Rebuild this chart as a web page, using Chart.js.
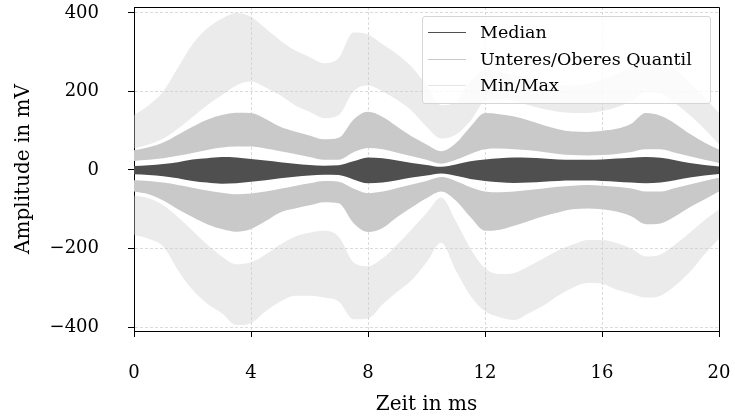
<!DOCTYPE html>
<html>
<head>
<meta charset="utf-8">
<script src="https://cdn.jsdelivr.net/npm/chart.js@4.4.1/dist/chart.umd.min.js"></script>
<style>
  html, body { margin: 0; padding: 0; background: #fff; }
  #wrap { position: relative; width: 735px; height: 419px; }
  #legend {
    position: absolute; left: 422px; top: 16px; width: 289px; height: 88px;
    box-sizing: border-box; background: rgba(255,255,255,0.8);
    border: 1px solid #d6d6d6; border-radius: 3px;
    font-family: 'DejaVu Serif', serif; font-size: 17.5px; color: #000;
    padding-top: 2px;
  }
  .row { height: 26.5px; line-height: 26.5px; white-space: nowrap; position: relative; }
  .swatch { position: absolute; left: 5px; top: 13px; width: 38px; height: 0; border-top: 1.5px solid; }
  .lbl { position: absolute; left: 57px; top: 0; }
</style>
</head>
<body>
<div id="wrap">
  <canvas id="chart" width="735" height="419"></canvas>
  <div id="legend"></div>
</div>
<script>
// time axis in ms
const time = [0,0.5,1,1.5,2,2.5,3,3.5,4,4.5,5,5.5,6,6.5,7,7.5,8,8.5,9,9.5,10,
  10.5,11,11.5,12,12.5,13,13.5,14,14.5,15,15.5,16,16.5,17,17.5,18,18.5,19,19.5,20];

// envelopes (mV) of each trace
const medianHi = [10,12,15,20,27,30,33,32,28,24,20,16,13,11,12,22,32,30,24,18,13,
  8,14,22,27,30,32,31,29,27,26,26,27,29,31,33,31,25,18,13,9];
const medianLo = [-11,-13,-16,-21,-28,-32,-35,-34,-30,-26,-21,-17,-14,-12,-13,-24,-34,-32,-26,-19,-14,
  -9,-15,-23,-28,-31,-33,-32,-30,-28,-27,-27,-28,-30,-32,-34,-32,-26,-19,-14,-10];

const upperQHi = [50,58,70,90,110,128,140,146,145,130,110,98,88,78,82,128,148,135,110,85,65,
  48,68,110,145,142,136,126,114,104,98,97,100,105,118,145,138,118,92,70,52];
const upperQLo = [23,26,30,36,43,51,57,60,60,55,48,41,33,26,26,45,56,53,44,35,26,
  16,26,41,53,55,53,50,46,41,38,37,38,41,46,53,53,44,35,26,18];
const lowerQHi = [-26,-28,-32,-38,-45,-52,-58,-62,-60,-55,-48,-41,-34,-28,-30,-47,-59,-55,-46,-37,-28,
  -18,-28,-44,-55,-57,-55,-51,-47,-43,-40,-38,-40,-43,-47,-55,-55,-46,-37,-28,-20];
const lowerQLo = [-55,-62,-78,-100,-120,-138,-150,-157,-150,-130,-108,-98,-90,-82,-85,-135,-158,-148,-120,-95,-72,
  -55,-78,-120,-155,-152,-142,-130,-118,-108,-100,-98,-100,-106,-118,-138,-136,-118,-95,-75,-55];

const maxHi = [140,165,200,260,320,360,385,400,390,360,330,305,288,272,285,350,345,320,295,262,215,
  165,175,225,255,250,242,234,225,218,215,220,230,245,262,285,280,255,222,185,145];
const maxLo = [55,65,80,105,135,165,190,215,225,210,190,165,148,132,140,200,215,200,178,150,110,
  80,90,125,175,180,175,165,155,148,145,145,150,160,175,198,195,170,140,105,65];
const minHi = [-65,-72,-90,-120,-155,-190,-220,-240,-235,-215,-190,-170,-160,-155,-170,-235,-245,-225,-190,-150,-110,
  -70,-130,-200,-250,-265,-262,-245,-225,-205,-190,-178,-178,-186,-200,-220,-215,-190,-160,-128,-100];
const minLo = [-165,-175,-195,-255,-305,-340,-365,-395,-390,-360,-335,-320,-320,-325,-335,-380,-378,-342,-310,-280,-235,
  -185,-255,-320,-360,-375,-382,-365,-345,-320,-300,-288,-290,-305,-315,-325,-320,-295,-260,-215,-175];

const xTicks = [0, 4, 8, 12, 16, 20];
const yTicks = [-400, -200, 0, 200, 400];

const legendItems = [
  { label: 'Median', color: '#505050' },
  { label: 'Unteres/Oberes Quantil', color: '#c8c8c8' },
  { label: 'Min/Max', color: '#e6e6e6' }
];

const C_MED = '#4f4f4f', C_Q = '#c9c9c9', C_MM = 'rgba(205,205,205,0.4)';

const pts = arr => arr.map((v, i) => ({ x: time[i], y: v }));

function band(hi, lo, color, order) {
  return [
    { data: pts(hi), fill: '+1', backgroundColor: color, borderWidth: 0, pointRadius: 0, order },
    { data: pts(lo), fill: false, borderWidth: 0, pointRadius: 0, order }
  ];
}

const datasets = [
  ...band(medianHi, medianLo, C_MED, 0),
  ...band(upperQHi, upperQLo, C_Q, 1),
  ...band(lowerQHi, lowerQLo, C_Q, 1),
  ...band(maxHi, maxLo, C_MM, 2),
  ...band(minHi, minLo, C_MM, 2)
];

const serif = "'DejaVu Serif', serif";
const minus = v => String(v).replace('-', '\u2212');

// top and right spines
const frame = {
  id: 'frame',
  afterDatasetsDraw(chart) {
    const { ctx, chartArea: a } = chart;
    ctx.save();
    ctx.strokeStyle = '#000';
    ctx.lineWidth = 1;
    ctx.beginPath();
    ctx.moveTo(Math.round(a.left) + 0.5, Math.round(a.top) + 0.5);
    ctx.lineTo(Math.round(a.right) + 0.5, Math.round(a.top) + 0.5);
    ctx.lineTo(Math.round(a.right) + 0.5, Math.round(a.bottom) + 0.5);
    ctx.stroke();
    ctx.restore();
  }
};

new Chart(document.getElementById('chart'), {
  type: 'line',
  data: { datasets },
  plugins: [frame],
  options: {
    responsive: false,
    animation: false,
    devicePixelRatio: 1,
    layout: { padding: { left: 0, right: 16, top: 7, bottom: 0 } },
    plugins: { legend: { display: false }, tooltip: { enabled: false } },
    elements: { line: { cubicInterpolationMode: 'monotone' } },
    scales: {
      x: {
        type: 'linear', min: 0, max: 20,
        afterBuildTicks: s => { s.ticks = xTicks.map(v => ({ value: v })); },
        afterFit: s => { s.height = 88; s.paddingLeft = 0; s.paddingRight = 0; },
        grid: { color: '#d2d2d2', lineWidth: 0.8, tickLength: 6, tickColor: '#000', tickWidth: 1 },
        border: { color: '#000', width: 1, dash: [3, 2] },
        ticks: { color: '#000', padding: 26, maxRotation: 0, font: { family: serif, size: 18 }, callback: v => minus(v) },
        title: { display: true, text: 'Zeit in ms', color: '#000', font: { family: serif, size: 20 }, padding: { top: 0, bottom: 2 } }
      },
      y: {
        type: 'linear', min: -410, max: 415,
        afterBuildTicks: s => { s.ticks = yTicks.map(v => ({ value: v })); },
        afterFit: s => { s.width = 134; s.paddingTop = 0; s.paddingBottom = 0; },
        grid: { color: '#d2d2d2', lineWidth: 0.8, tickLength: 6, tickColor: '#000', tickWidth: 1 },
        border: { color: '#000', width: 1, dash: [3, 2] },
        ticks: { color: '#000', padding: 29, font: { family: serif, size: 18 }, callback: v => minus(v) },
        title: { display: true, text: 'Amplitude in mV', color: '#000', font: { family: serif, size: 20 }, padding: { top: 12, bottom: 0 } }
      }
    }
  }
});

const leg = document.getElementById('legend');
legendItems.forEach(it => {
  const row = document.createElement('div');
  row.className = 'row';
  row.innerHTML = '<span class="swatch" style="border-color:' + it.color + '"></span><span class="lbl">' + it.label + '</span>';
  leg.appendChild(row);
});
</script>
</body>
</html>
